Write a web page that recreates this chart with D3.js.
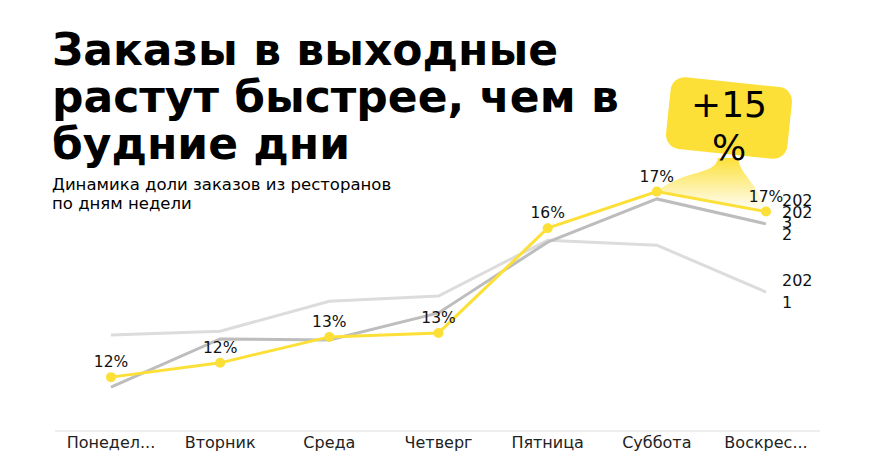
<!DOCTYPE html><html><head><meta charset="utf-8"><script src="https://cdn.jsdelivr.net/npm/d3@7"></script>
<style>body{margin:0;background:#fff;font-family:"DejaVu Sans",sans-serif}</style></head><body><svg id="c" width="874" height="462"></svg>
<script>
const days=["Понедел...","Вторник","Среда","Четверг","Пятница","Суббота","Воскрес..."];
const s2021=[12.89,13.0,13.9,14.06,15.74,15.59,14.18];
const s2022=[11.32,12.77,12.74,13.55,15.68,16.98,16.23];
const s2023=[11.62,12.05,12.83,12.95,16.1,17.2,16.6];
const series=[{name:["202","1"],v:s2021,c:"#dcdcdc"},{name:["202","2"],v:s2022,c:"#bdbdbd"},{name:["202","3"],v:s2023,c:"#fce038"}];
const svg=d3.select("#c");
const x=d3.scalePoint(days,[111,766]);
const y=d3.scaleLinear([10,18],[431,165]);
const t=svg.append("g").attr("font-weight","bold").attr("font-size",44).attr("fill","#000");
["Заказы в выходные","растут быстрее, чем в","будние дни"].forEach((s,i)=>t.append("text").attr("x",52).attr("y",65+i*47).text(s));
["Динамика доли заказов из ресторанов","по дням недели"].forEach((s,i)=>svg.append("text").attr("x",52).attr("y",190+i*19).attr("font-size",16.5).text(s));
svg.append("line").attr("x1",55).attr("x2",820).attr("y1",431).attr("y2",431).attr("stroke","#ddd");
days.forEach(d=>svg.append("text").attr("x",x(d)).attr("y",448).attr("text-anchor","middle").attr("font-size",16).attr("fill","#222").text(d));
const defs=svg.append("defs");
const g=defs.append("linearGradient").attr("id","gr").attr("x1",0).attr("x2",0).attr("y1",0).attr("y2",1);
g.append("stop").attr("offset",0).attr("stop-color","#fce038");
g.append("stop").attr("offset",1).attr("stop-color","#fce038").attr("stop-opacity",0);
const sx=x(days[5]),ex=x(days[6]);
svg.append("path").attr("d",`M${sx},${y(s2023[5])} C${sx+30},168 ${715},176 ${718},158 L${738},158 C${740},175 ${ex-10},180 ${ex},${y(s2023[6])} Z`).attr("fill","url(#gr)");
svg.append("rect").attr("x",668).attr("y",82).attr("width",122).attr("height",72).attr("rx",14).attr("fill","#fce038").attr("transform","rotate(6 729 118)");
svg.append("text").attr("x",729).attr("y",117).attr("text-anchor","middle").attr("font-size",36).text("+15");
svg.append("text").attr("x",729).attr("y",160).attr("text-anchor","middle").attr("font-size",36).text("%");
const line=d3.line().x((d,i)=>x(days[i])).y(d=>y(d));
series.forEach(s=>{
 svg.append("path").attr("d",line(s.v)).attr("fill","none").attr("stroke",s.c).attr("stroke-width",3);
 const ly=y(s.v[6]);
 s.name.forEach((n,i)=>svg.append("text").attr("x",782).attr("y",ly-11+i*22+5).attr("font-size",16).attr("fill","#111").text(n));
});
s2023.forEach((v,i)=>{
 svg.append("circle").attr("cx",x(days[i])).attr("cy",y(v)).attr("r",5).attr("fill","#fce038");
 svg.append("text").attr("x",x(days[i])).attr("y",y(v)-10).attr("text-anchor","middle").attr("font-size",15.5).attr("fill","#111").text(Math.round(v)+"%");
});
</script></body></html>
